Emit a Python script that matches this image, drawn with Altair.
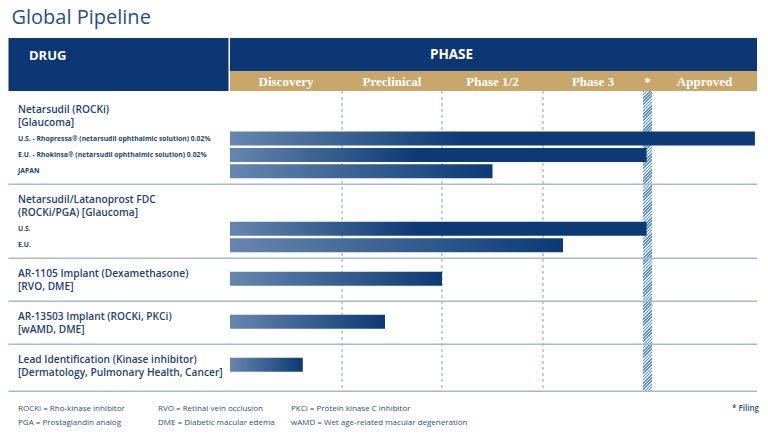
import altair as alt
import pandas as pd

# ---------------- data ----------------
TITLE = "Global Pipeline"
phases = ["Discovery", "Preclinical", "Phase 1/2", "Phase 3", "*", "Approved"]
drug_names = [
    "Netarsudil (ROCKi)",
    "Netarsudil/Latanoprost FDC",
    "AR-1105 Implant (Dexamethasone)",
    "AR-13503 Implant (ROCKi, PKCi)",
    "Lead Identification (Kinase inhibitor)",
]
drug_details = [
    "[Glaucoma]",
    "(ROCKi/PGA) [Glaucoma]",
    "[RVO, DME]",
    "[wAMD, DME]",
    "[Dermatology, Pulmonary Health, Cancer]",
]
program_drug = [0, 0, 0, 1, 1, 2, 3, 4]
program_labels = [
    "U.S. - Rhopressa® (netarsudil ophthalmic solution) 0.02%",
    "E.U. - Rhokinsa® (netarsudil ophthalmic solution) 0.02%",
    "JAPAN",
    "U.S.",
    "E.U.",
    "",
    "",
    "",
]
# progress measured in phase units (0 = start of Discovery, 6 = end of Approved)
program_progress = [5.98, 4.4, 2.5, 4.4, 3.2, 2.0, 1.43, 0.65]
abbreviations = [
    "ROCKi = Rho-kinase inhibitor",
    "PGA = Prostaglandin analog",
    "RVO = Retinal vein occlusion",
    "DME = Diabetic macular edema",
    "PKCi = Protein kinase C inhibitor",
    "wAMD = Wet age-related macular degeneration",
]
FILING_NOTE = "* Filing"

# ---------------- style / layout ----------------
PT = 8  # top padding
W, H = 752, 425 - PT
NAVY = "#0c3674"
GOLD = "#c9a66a"
TEXT = "#1d3f75"
FOOT = "#2b5088"
SEP = "#a8bacb"
DASH = "#8aa2bd"
BAR_LIGHT = "#6686ae"
BAR_DARK = "#0c3a75"
SANS = "Open Sans"
SERIF = "Liberation Serif"


def X(px):
    return px - 8


def Y(py):
    return py - 8 - PT


PHASE_EDGES_PX = [X(v) for v in [230, 342, 442, 543, 643, 652, 757]]
xscale = alt.Scale(domain=list(range(len(PHASE_EDGES_PX))), range=PHASE_EDGES_PX)

HEADER_TOP, GOLD_TOP, HEADER_BOTTOM = 38, 71, 91
GAP, TOP_PAD, LINE, FIRST_SUB, SUB, BOT_PAD, SINGLE_H, LAST_EXTRA = 3, 15.5, 13.3, 44.5, 16.4, 13, 43, 4
BAR_H = 14

# row layout (page pixels, converted with Y())
names_rows, bar_rows, seps = [], [], []
top = HEADER_BOTTOM + GAP
for g in range(len(drug_names)):
    progs = [i for i, d in enumerate(program_drug) if d == g]
    names_rows.append({"name": drug_names[g], "detail": drug_details[g],
                       "y1": Y(top + TOP_PAD), "y2": Y(top + TOP_PAD + LINE)})
    has_sub = any(program_labels[i] for i in progs)
    if has_sub:
        for k, i in enumerate(progs):
            yc = top + FIRST_SUB + k * SUB
            bar_rows.append({"label": program_labels[i], "progress": program_progress[i], "start": 0,
                             "yc": Y(yc), "y0": Y(yc - BAR_H / 2), "y1": Y(yc + BAR_H / 2)})
        top = top + FIRST_SUB + (len(progs) - 1) * SUB + BOT_PAD
    else:
        yc = top + TOP_PAD + LINE / 2 - 1.5
        for i in progs:
            bar_rows.append({"label": "", "progress": program_progress[i], "start": 0,
                             "yc": Y(yc), "y0": Y(yc - BAR_H / 2), "y1": Y(yc + BAR_H / 2)})
        top = top + SINGLE_H + (LAST_EXTRA if g == len(drug_names) - 1 else 0)
    seps.append(top)
BOTTOM = seps[-1]

names_df = pd.DataFrame(names_rows)
bars_df = pd.DataFrame(bar_rows)
seps_df = pd.DataFrame({"y": [Y(s) for s in seps], "start": 0.0, "end": float(len(phases))})
phase_df = pd.DataFrame({"phase": phases, "mid": [i + 0.5 for i in range(len(phases))]})
bound_df = pd.DataFrame({"b": [1, 2, 3]})
filing_df = pd.DataFrame({"a": [4], "b": [5]})
FOOT_X = [18, 158, 291]
foot_df = pd.DataFrame({
    "t": abbreviations,
    "x": [X(FOOT_X[i // 2]) for i in range(len(abbreviations))],
    "y": [Y(409 + (i % 2) * 13.7) for i in range(len(abbreviations))],
})
one = pd.DataFrame({"k": [0]})


def grad(x2, stops):
    return alt.LinearGradient(
        gradient="linear", x1=0, y1=0, x2=x2, y2=0,
        stops=[alt.GradientStop(offset=o, color=c) for o, c in stops])


# hatch gradient (diagonal stripes) for the Filing column
hw, hh = 9.0, BOTTOM - HEADER_BOTTOM
S = (hw + hh) / hh
period = 3.2 / (hh * S)
stops = []
k = 0
while k * period < 1:
    b = k * period
    for o, c in [(b, "#5f93c6"), (b + period / 2, "#5f93c6"), (b + period / 2, "#dce8f4"), (b + period, "#dce8f4")]:
        stops.append(alt.GradientStop(offset=min(o, 1.0), color=c))
    k += 1
hatch = alt.LinearGradient(gradient="linear", x1=0, y1=0, x2=hw / hh * S, y2=S, stops=stops)

# ---------------- layers ----------------
title = alt.Chart(one).mark_text(
    text=TITLE, font=SANS, fontSize=20, fontWeight=500, color="#1f4f8f",
    align="left", baseline="alphabetic"
).encode(x=alt.value(X(11.5)), y=alt.value(Y(24.4)))

drug_box = alt.Chart(one).mark_rect(color=NAVY).encode(
    x=alt.value(X(8.5)), x2=alt.value(X(228.5)), y=alt.value(Y(HEADER_TOP)), y2=alt.value(Y(HEADER_BOTTOM)))
phase_box = alt.Chart(one).mark_rect(color=NAVY).encode(
    x=alt.X(datum=0, scale=xscale, axis=None), x2=alt.X2(datum=len(phases)),
    y=alt.value(Y(HEADER_TOP)), y2=alt.value(Y(GOLD_TOP)))
gold_box = alt.Chart(one).mark_rect(color=GOLD).encode(
    x=alt.X(datum=0, scale=xscale, axis=None), x2=alt.X2(datum=len(phases)),
    y=alt.value(Y(GOLD_TOP)), y2=alt.value(Y(HEADER_BOTTOM)))
drug_txt = alt.Chart(one).mark_text(
    text="DRUG", font=SANS, fontSize=13, fontWeight="bold", color="white", align="left", baseline="middle"
).encode(x=alt.value(X(29)), y=alt.value(Y(56)))
phase_txt = alt.Chart(one).mark_text(
    text="PHASE", font=SANS, fontSize=13.5, fontWeight="bold", color="white", align="center", baseline="middle"
).encode(x=alt.value(X(451.5)), y=alt.value(Y(55.3)))
phase_labels = alt.Chart(phase_df).mark_text(
    font=SERIF, fontSize=13, fontWeight="bold", color="white", align="center", baseline="middle"
).encode(x=alt.X("mid:Q", scale=xscale, axis=None), y=alt.value(Y(81.5)), text="phase:N")

dashes = alt.Chart(bound_df).mark_rule(color=DASH, strokeWidth=1, strokeDash=[3, 3]).encode(
    x=alt.X("b:Q", scale=xscale, axis=None), y=alt.value(Y(HEADER_BOTTOM)), y2=alt.value(Y(BOTTOM)))
filing = alt.Chart(filing_df).mark_rect(fill=hatch).encode(
    x=alt.X("a:Q", scale=xscale, axis=None), x2="b:Q",
    y=alt.value(Y(HEADER_BOTTOM)), y2=alt.value(Y(BOTTOM)))
sep_rules = alt.Chart(seps_df).mark_rule(color=SEP, strokeWidth=1.5).encode(
    x=alt.X("start:Q", scale=xscale, axis=None), x2="end:Q", y=alt.Y("y:Q", scale=None))
sep_left = alt.Chart(seps_df).mark_rule(color=SEP, strokeWidth=1.5).encode(
    x=alt.value(X(8.5)), x2=alt.value(X(231)), y=alt.Y("y:Q", scale=None))

bars_long = alt.Chart(bars_df).transform_filter("datum.progress >= 4").mark_rect(
    fill=grad(0.45, [(0, BAR_LIGHT), (1, BAR_DARK)])
).encode(x=alt.X("start:Q", scale=xscale, axis=None), x2="progress:Q",
         y=alt.Y("y0:Q", scale=None), y2="y1:Q")
bars_short = alt.Chart(bars_df).transform_filter("datum.progress < 4").mark_rect(
    fill=grad(1, [(0, BAR_LIGHT), (1, BAR_DARK)])
).encode(x=alt.X("start:Q", scale=xscale, axis=None), x2="progress:Q",
         y=alt.Y("y0:Q", scale=None), y2="y1:Q")

sub_labels = alt.Chart(bars_df).mark_text(
    font=SANS, fontSize=6.8, fontWeight="bold", color=TEXT, align="left", baseline="middle"
).encode(x=alt.value(X(18)), y=alt.Y("yc:Q", scale=None), text="label:N")
name1 = alt.Chart(names_df).mark_text(
    font=SANS, fontSize=10.2, fontWeight=600, color=TEXT, align="left", baseline="middle"
).encode(x=alt.value(X(18)), y=alt.Y("y1:Q", scale=None), text="name:N")
name2 = alt.Chart(names_df).mark_text(
    font=SANS, fontSize=10.2, fontWeight=600, color=TEXT, align="left", baseline="middle"
).encode(x=alt.value(X(18)), y=alt.Y("y2:Q", scale=None), text="detail:N")

foot = alt.Chart(foot_df).mark_text(
    font=SANS, fontSize=8, color=FOOT, align="left", baseline="middle"
).encode(x=alt.X("x:Q", scale=None), y=alt.Y("y:Q", scale=None), text="t:N")
filing_note = alt.Chart(one).mark_text(
    text=FILING_NOTE, font=SANS, fontSize=8, fontWeight=600, color=FOOT, align="right", baseline="middle"
).encode(x=alt.value(X(759)), y=alt.value(Y(409)))

chart = alt.layer(
    title, drug_box, phase_box, gold_box, drug_txt, phase_txt, phase_labels,
    dashes, filing, sep_rules, sep_left, bars_long, bars_short,
    sub_labels, name1, name2, foot, filing_note,
).properties(
    width=W, height=H, autosize="none",
    padding={"left": 0, "top": PT, "right": 0, "bottom": 0}
).configure_view(stroke=None)

chart.save("out.html", embed_options={"renderer": "svg", "actions": False})
